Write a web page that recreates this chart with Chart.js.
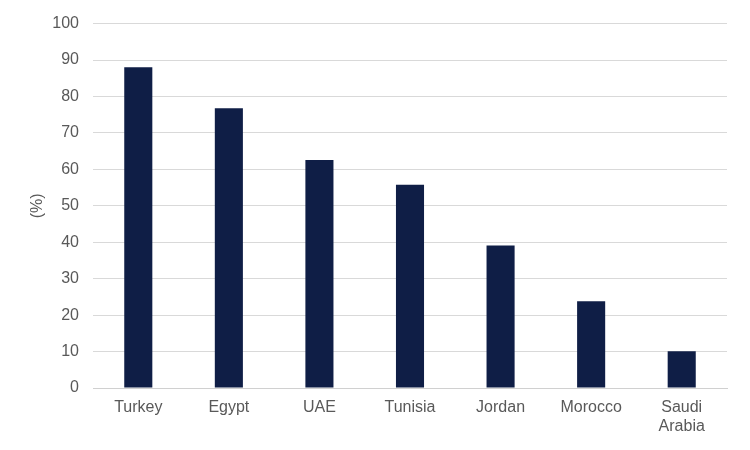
<!DOCTYPE html>
<html>
<head>
<meta charset="utf-8">
<script src="https://cdn.jsdelivr.net/npm/chart.js@4"></script>
<style>
  html, body { margin: 0; padding: 0; background: #fff; }
  #wrap { width: 750px; height: 450px; }
</style>
</head>
<body>
<div id="wrap"><canvas id="barChart" width="750" height="450"></canvas></div>
<script>
const countries = ['Turkey', 'Egypt', 'UAE', 'Tunisia', 'Jordan', 'Morocco', ['Saudi', 'Arabia']];
const shares = [88, 76.8, 62.6, 55.8, 39.1, 23.8, 10.1];
const yTicks = [0, 10, 20, 30, 40, 50, 60, 70, 80, 90, 100];

document.addEventListener('DOMContentLoaded', function() {
    const ctx = document.getElementById('barChart').getContext('2d');

    new Chart(ctx, {
        type: 'bar',
        data: {
            labels: countries,
            datasets: [{
                data: shares,
                backgroundColor: '#0F1E46',
                barPercentage: 0.62,
                categoryPercentage: 0.5
            }]
        },
        options: {
            responsive: false,
            animation: false,
            layout: { padding: { top: 22, right: 23, left: 0, bottom: 0 } },
            plugins: {
                legend: { display: false },
                tooltip: { enabled: false }
            },
            scales: {
                x: {
                    grid: { display: false, drawTicks: false },
                    border: { color: '#d0d0d0', width: 1 },
                    ticks: {
                        color: '#595959',
                        font: { family: 'Liberation Sans, Arial, sans-serif', size: 16 },
                        padding: 10,
                        maxRotation: 0
                    },
                    afterFit: function(scale) { scale.height = 62; }
                },
                y: {
                    min: 0,
                    max: 100,
                    afterBuildTicks: function(scale) {
                        scale.ticks = yTicks.map(v => ({ value: v }));
                    },
                    grid: { color: '#d9d9d9', drawTicks: false },
                    border: { display: false },
                    ticks: {
                        color: '#595959',
                        font: { family: 'Liberation Sans, Arial, sans-serif', size: 16 },
                        padding: 14
                    },
                    title: {
                        display: true,
                        text: '(%)',
                        color: '#595959',
                        font: { family: 'Liberation Sans, Arial, sans-serif', size: 16 },
                        padding: { top: 28, bottom: 0 }
                    },
                    afterFit: function(scale) { scale.width = 93; }
                }
            }
        }
    });
});
</script>
</body>
</html>
